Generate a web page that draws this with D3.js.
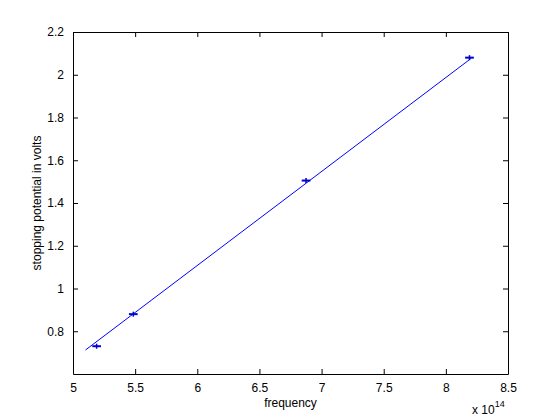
<!DOCTYPE html>
<html>
<head>
<meta charset="utf-8">
<script src="https://cdn.jsdelivr.net/npm/d3@7"></script>
<style>
  body { margin: 0; background: #fff; }
  svg { display: block; font-family: "Liberation Sans", Arial, sans-serif; }
</style>
</head>
<body>
<div class="visHolder"></div>
<script>
// measured points (frequency in units of 1e14 Hz)
let freq = [5.19, 5.485, 6.875, 8.19];
let volts = [0.73, 0.88, 1.505, 2.08];
let freqErr = [0.035, 0.035, 0.035, 0.035];

// fitted line end points
let fitFreq = [5.1, 8.2];
let fitVolts = [0.712, 2.075];

let xTicks = [5, 5.5, 6, 6.5, 7, 7.5, 8, 8.5];
let yTicks = [0.8, 1, 1.2, 1.4, 1.6, 1.8, 2, 2.2];

let width = 560;
let height = 420;
let padLeft = 73, padRight = 508, padTop = 32, padBottom = 374;

let svg = d3.select('.visHolder').append('svg')
  .attr('width', width)
  .attr('height', height);

let xScale = d3.scaleLinear().domain([5, 8.5]).range([padLeft, padRight]);
let yScale = d3.scaleLinear().domain([0.6, 2.2]).range([padBottom, padTop]);

let fmt = d => String(d);

// axes, ticks pointing inward like matlab
let xAxis = d3.axisBottom(xScale).tickValues(xTicks).tickFormat(fmt).tickSizeInner(-5).tickSizeOuter(0).tickPadding(9);
let yAxis = d3.axisLeft(yScale).tickValues(yTicks).tickFormat(fmt).tickSizeInner(-5).tickSizeOuter(0).tickPadding(9);
let xTop = d3.axisTop(xScale).tickValues(xTicks).tickFormat('').tickSizeInner(-5).tickSizeOuter(0);
let yRight = d3.axisRight(yScale).tickValues(yTicks).tickFormat('').tickSizeInner(-5).tickSizeOuter(0);

function styleAxis(g) {
  g.selectAll('path, line').attr('stroke', '#000').attr('stroke-width', 1);
  g.selectAll('text').attr('fill', '#000').style('font-size', '12px');
}

svg.append('g').attr('transform', 'translate(0,' + padBottom + ')').call(xAxis).call(styleAxis);
svg.append('g').attr('transform', 'translate(' + padLeft + ',0)').call(yAxis).call(styleAxis);
svg.append('g').attr('transform', 'translate(0,' + padTop + ')').call(xTop).call(styleAxis);
svg.append('g').attr('transform', 'translate(' + padRight + ',0)').call(yRight).call(styleAxis);

// fitted line
let line = d3.line().x(d => xScale(d[0])).y(d => yScale(d[1]));
svg.append('path')
  .datum(d3.zip(fitFreq, fitVolts))
  .attr('d', line)
  .attr('fill', 'none')
  .attr('stroke', '#0000ff')
  .attr('stroke-width', 1);

// data points with horizontal error bars
let pts = svg.append('g').selectAll('g')
  .data(d3.zip(freq, volts, freqErr))
  .join('g');

pts.append('line')
  .attr('x1', d => xScale(d[0] - d[2]))
  .attr('x2', d => xScale(d[0] + d[2]))
  .attr('y1', d => yScale(d[1]))
  .attr('y2', d => yScale(d[1]))
  .attr('stroke', '#0000cc')
  .attr('stroke-width', 2);

pts.append('line')
  .attr('x1', d => xScale(d[0]))
  .attr('x2', d => xScale(d[0]))
  .attr('y1', d => yScale(d[1]) - 2.5)
  .attr('y2', d => yScale(d[1]) + 2.5)
  .attr('stroke', '#0000cc')
  .attr('stroke-width', 1.5);

// labels
svg.append('text')
  .attr('x', (padLeft + padRight) / 2)
  .attr('y', 407)
  .attr('text-anchor', 'middle')
  .style('font-size', '12px')
  .text('frequency');

svg.append('text')
  .attr('transform', 'translate(41,' + (padTop + padBottom) / 2 + ') rotate(-90)')
  .attr('text-anchor', 'middle')
  .style('font-size', '12px')
  .text('stopping potential in volts');

let expo = svg.append('text')
  .attr('x', 472)
  .attr('y', 414)
  .style('font-size', '12px');
expo.append('tspan').text('x 10');
expo.append('tspan').attr('dy', -7).style('font-size', '9px').text('14');
</script>
</body>
</html>
